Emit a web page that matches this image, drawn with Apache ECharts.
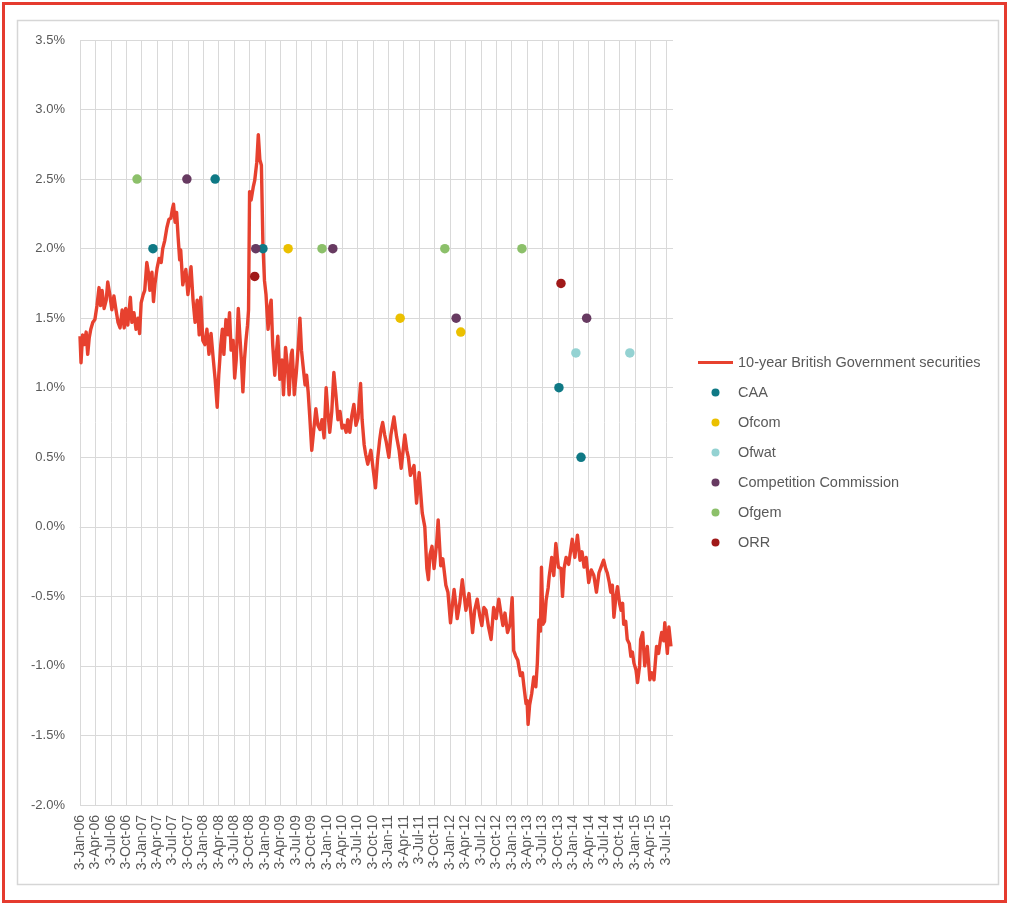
<!DOCTYPE html>
<html>
<head>
<meta charset="utf-8">
<script src="https://cdn.jsdelivr.net/npm/echarts@6/dist/echarts.min.js"></script>
<style>
  html, body { margin: 0; padding: 0; background: #fff; }
  #chart { width: 1009px; height: 905px; }
</style>
</head>
<body>
<div id="chart"></div>
<script>
// x positions are months since 3-Jan-06 (fractional), y values are %
const xTickLabels = [
  '3-Jan-06', '3-Apr-06', '3-Jul-06', '3-Oct-06',
  '3-Jan-07', '3-Apr-07', '3-Jul-07', '3-Oct-07',
  '3-Jan-08', '3-Apr-08', '3-Jul-08', '3-Oct-08',
  '3-Jan-09', '3-Apr-09', '3-Jul-09', '3-Oct-09',
  '3-Jan-10', '3-Apr-10', '3-Jul-10', '3-Oct-10',
  '3-Jan-11', '3-Apr-11', '3-Jul-11', '3-Oct-11',
  '3-Jan-12', '3-Apr-12', '3-Jul-12', '3-Oct-12',
  '3-Jan-13', '3-Apr-13', '3-Jul-13', '3-Oct-13',
  '3-Jan-14', '3-Apr-14', '3-Jul-14', '3-Oct-14',
  '3-Jan-15', '3-Apr-15', '3-Jul-15'
];

const gsMonth = [
  0.0, 0.2, 0.5, 0.8, 1.2, 1.5, 1.8, 2.1, 2.5, 2.9, 3.3, 3.7, 4.0, 4.3, 4.7, 5.1, 5.4, 5.8, 6.2, 6.6,
  7.0, 7.4, 7.8, 8.2, 8.6, 8.9, 9.3, 9.8, 10.1, 10.5, 10.9, 11.3, 11.6, 11.9, 12.3, 12.6, 13.0, 13.3, 13.6, 14.0,
  14.3, 14.6, 15.0, 15.4, 15.8, 16.1, 16.5, 16.9, 17.3, 17.7, 18.0, 18.2, 18.5, 18.8, 19.1, 19.4, 19.6, 20.0, 20.6, 21.0,
  21.6, 22.0, 22.4, 22.8, 23.2, 23.5, 23.9, 24.3, 24.7, 25.1, 25.5, 25.9, 26.3, 26.7, 27.0, 27.4, 27.7, 28.0, 28.4, 28.8,
  29.1, 29.4, 29.8, 30.1, 30.4, 30.8, 31.1, 31.4, 31.7, 32.0, 32.3, 32.6, 32.8, 33.0, 33.3, 33.7, 34.0, 34.4, 34.7, 35.0,
  35.3, 35.6, 35.9, 36.2, 36.6, 37.0, 37.2, 37.5, 37.9, 38.2, 38.5, 38.9, 39.3, 39.6, 40.0, 40.4, 40.7, 41.1, 41.3, 41.7,
  42.1, 42.5, 42.8, 43.1, 43.4, 43.8, 44.1, 44.4, 44.7, 45.1, 45.5, 45.9, 46.3, 46.7, 47.1, 47.5, 47.9, 48.2, 48.6, 49.0,
  49.4, 49.8, 50.2, 50.6, 51.0, 51.4, 51.8, 52.1, 52.5, 52.9, 53.3, 53.7, 54.1, 54.6, 54.9, 55.3, 55.6, 56.0, 56.6, 57.1,
  57.5, 57.9, 58.3, 58.6, 58.9, 59.3, 59.6, 60.1, 60.5, 61.1, 61.6, 62.1, 62.5, 62.8, 63.2, 63.6, 63.9, 64.3, 65.0, 65.5,
  66.0, 66.6, 67.1, 67.5, 67.8, 68.1, 68.5, 68.9, 69.4, 69.7, 70.2, 70.6, 71.2, 71.6, 72.1, 72.8, 73.2, 73.4, 73.9, 74.4,
  75.1, 75.7, 76.4, 76.8, 77.3, 77.8, 78.2, 78.6, 79.0, 79.5, 80.0, 80.5, 81.0, 81.5, 81.9, 82.3, 82.7, 83.2, 83.7, 84.1,
  84.4, 84.8, 85.2, 85.7, 86.1, 86.4, 86.8, 87.0, 87.2, 87.5, 87.9, 88.3, 88.7, 89.0, 89.3, 89.6, 89.8, 90.1, 90.4, 90.7,
  91.1, 91.3, 91.8, 92.2, 92.6, 93.1, 93.6, 93.9, 94.2, 94.6, 95.1, 95.8, 96.3, 96.8, 97.3, 97.7, 98.1, 98.5, 99.0, 99.5,
  100.0, 100.5, 101.0, 101.4, 101.9, 102.3, 102.6, 103.0, 103.3, 103.6, 103.9, 104.3, 104.6, 105.0, 105.3, 105.6, 105.8, 106.2, 106.5, 106.9,
  107.2, 107.5, 107.8, 108.2, 108.5, 108.9, 109.1, 109.5, 109.9, 110.4, 110.9, 111.3, 111.7, 112.2, 112.6, 113.0, 113.2, 113.6, 113.8, 114.3,
  114.6, 115.0
];

const gsYield = [
  1.37, 1.18, 1.38, 1.31, 1.40, 1.24, 1.36, 1.42, 1.47, 1.49, 1.59, 1.72, 1.59, 1.70, 1.57, 1.63, 1.76, 1.67, 1.56, 1.66,
  1.56, 1.47, 1.43, 1.56, 1.43, 1.57, 1.45, 1.65, 1.47, 1.54, 1.42, 1.50, 1.39, 1.61, 1.67, 1.70, 1.90, 1.83, 1.70, 1.83,
  1.62, 1.75, 1.86, 1.93, 1.90, 2.00, 2.06, 2.15, 2.21, 2.22, 2.29, 2.32, 2.19, 2.26, 2.08, 1.92, 1.99, 1.74, 1.85, 1.67,
  1.87, 1.63, 1.47, 1.63, 1.38, 1.65, 1.34, 1.31, 1.42, 1.24, 1.39, 1.22, 1.06, 0.86, 1.09, 1.31, 1.42, 1.24, 1.49, 1.38,
  1.54, 1.27, 1.34, 1.07, 1.20, 1.57, 1.38, 1.20, 0.97, 1.20, 1.34, 1.45, 1.56, 2.41, 2.35, 2.44, 2.49, 2.62, 2.82, 2.64,
  2.60, 2.03, 1.77, 1.67, 1.42, 1.59, 1.63, 1.31, 1.09, 1.24, 1.37, 1.06, 1.20, 0.95, 1.29, 1.14, 0.95, 1.24, 1.27, 0.95,
  1.11, 1.31, 1.50, 1.27, 1.16, 1.02, 1.09, 0.97, 0.80, 0.55, 0.70, 0.85, 0.73, 0.70, 0.77, 0.64, 1.00, 0.84, 0.68, 0.83,
  1.11, 0.95, 0.77, 0.83, 0.71, 0.73, 0.68, 0.77, 0.68, 0.80, 0.88, 0.73, 0.78, 1.03, 0.77, 0.59, 0.52, 0.45, 0.55, 0.40,
  0.28, 0.48, 0.62, 0.70, 0.75, 0.66, 0.61, 0.50, 0.66, 0.79, 0.65, 0.55, 0.42, 0.52, 0.66, 0.55, 0.50, 0.37, 0.44, 0.17,
  0.39, 0.10, 0.00, -0.30, -0.38, -0.20, -0.14, -0.30, -0.12, 0.05, -0.28, -0.23, -0.42, -0.47, -0.69, -0.45, -0.58, -0.66, -0.55, -0.38,
  -0.60, -0.48, -0.76, -0.60, -0.52, -0.64, -0.71, -0.58, -0.60, -0.72, -0.81, -0.58, -0.66, -0.52, -0.62, -0.71, -0.62, -0.76, -0.70, -0.51,
  -0.89, -0.93, -0.96, -1.07, -1.05, -1.15, -1.27, -1.25, -1.42, -1.28, -1.20, -1.08, -1.15, -0.98, -0.67, -0.75, -0.29, -0.70, -0.68, -0.53,
  -0.44, -0.36, -0.22, -0.35, -0.12, -0.29, -0.30, -0.50, -0.30, -0.22, -0.27, -0.09, -0.22, -0.06, -0.24, -0.18, -0.29, -0.22, -0.40, -0.31,
  -0.35, -0.47, -0.33, -0.29, -0.24, -0.30, -0.33, -0.40, -0.47, -0.42, -0.65, -0.50, -0.43, -0.55, -0.60, -0.55, -0.70, -0.68, -0.81, -0.84,
  -0.93, -0.90, -0.98, -1.03, -1.12, -1.00, -0.81, -0.76, -1.00, -0.86, -1.10, -1.05, -1.10, -0.86, -0.91, -0.80, -0.76, -0.82, -0.69, -0.91,
  -0.72, -0.86
];

// regulator decisions: [months since 3-Jan-06, %]
const caa = [[14.2, 2.0], [26.3, 2.5], [35.6, 2.0], [93.2, 1.0], [97.5, 0.5]];
const ofcom = [[40.5, 2.0], [62.3, 1.5], [74.1, 1.4]];
const ofwat = [[96.5, 1.25], [107.0, 1.25]];
const compCommission = [[20.8, 2.5], [34.2, 2.0], [49.2, 2.0], [73.2, 1.5], [98.6, 1.5]];
const ofgem = [[11.1, 2.5], [47.1, 2.0], [71.0, 2.0], [86.0, 2.0]];
const orr = [[34.0, 1.8], [93.6, 1.75]];

const FONT = 'Liberation Sans';
const TEXT_GREY = '#595959';
const GRID_GREY = '#d9d9d9';
const GILT_NAME = '10-year British Government securities';

const chart = echarts.init(document.getElementById('chart'));

const scatter = (name, data, color) => ({
  name,
  type: 'scatter',
  data,
  symbol: 'circle',
  symbolSize: 9.5,
  itemStyle: { color, opacity: 1 },
  z: 3,
});

chart.setOption({
  animation: false,
  backgroundColor: '#fff',
  graphic: [
    {
      type: 'rect',
      shape: { x: 3.5, y: 3.5, width: 1002, height: 898 },
      style: { fill: 'none', stroke: '#e53b2f', lineWidth: 3 },
      silent: true,
    },
    {
      type: 'rect',
      shape: { x: 17.5, y: 20.5, width: 981, height: 864 },
      style: { fill: 'none', stroke: '#d6d6d6', lineWidth: 1.5 },
      silent: true,
    },
  ],
  grid: { left: 80, right: 336, top: 40, bottom: 100 },
  legend: {
    orient: 'vertical',
    left: 693,
    top: 350,
    itemWidth: 35,
    itemHeight: 8,
    itemGap: 15,
    symbolKeepAspect: true,
    textStyle: { color: TEXT_GREY, fontFamily: FONT, fontSize: 14.5 },
    data: [
      { name: GILT_NAME, icon: 'path://M0,0 L35,0 L35,3 L0,3 Z' },
      'CAA', 'Ofcom', 'Ofwat', 'Competition Commission', 'Ofgem', 'ORR'
    ],
  },
  xAxis: {
    type: 'value',
    min: 0,
    max: 115.4,
    interval: 3,
    axisLine: { show: true, lineStyle: { color: GRID_GREY } },
    axisTick: { show: false },
    splitLine: { show: true, showMaxLine: false, lineStyle: { color: GRID_GREY, width: 1 } },
    axisLabel: {
      rotate: 90,
      margin: 10,
      showMaxLabel: false,
      color: TEXT_GREY,
      fontFamily: FONT,
      fontSize: 14,
      formatter: (v) => (v % 3 === 0 ? xTickLabels[v / 3] || '' : ''),
    },
  },
  yAxis: {
    type: 'value',
    min: -2,
    max: 3.5,
    interval: 0.5,
    axisLine: { show: false },
    axisTick: { show: false },
    splitLine: { lineStyle: { color: GRID_GREY, width: 1 } },
    axisLabel: {
      margin: 15,
      color: TEXT_GREY,
      fontFamily: FONT,
      fontSize: 13,
      formatter: (v) => v.toFixed(1) + '%',
    },
  },
  series: [
    {
      name: GILT_NAME,
      type: 'line',
      data: gsMonth.map((m, i) => [m, gsYield[i]]),
      symbol: 'none',
      lineStyle: { color: '#e7412f', width: 3.4, join: 'round' },
      itemStyle: { color: '#e7412f' },
      z: 2,
    },
    scatter('CAA', caa, '#0f7985'),
    scatter('Ofcom', ofcom, '#ebc000'),
    scatter('Ofwat', ofwat, '#94d2d2'),
    scatter('Competition Commission', compCommission, '#673a61'),
    scatter('Ofgem', ofgem, '#8cc06a'),
    scatter('ORR', orr, '#a01919'),
  ],
});
</script>
</body>
</html>
